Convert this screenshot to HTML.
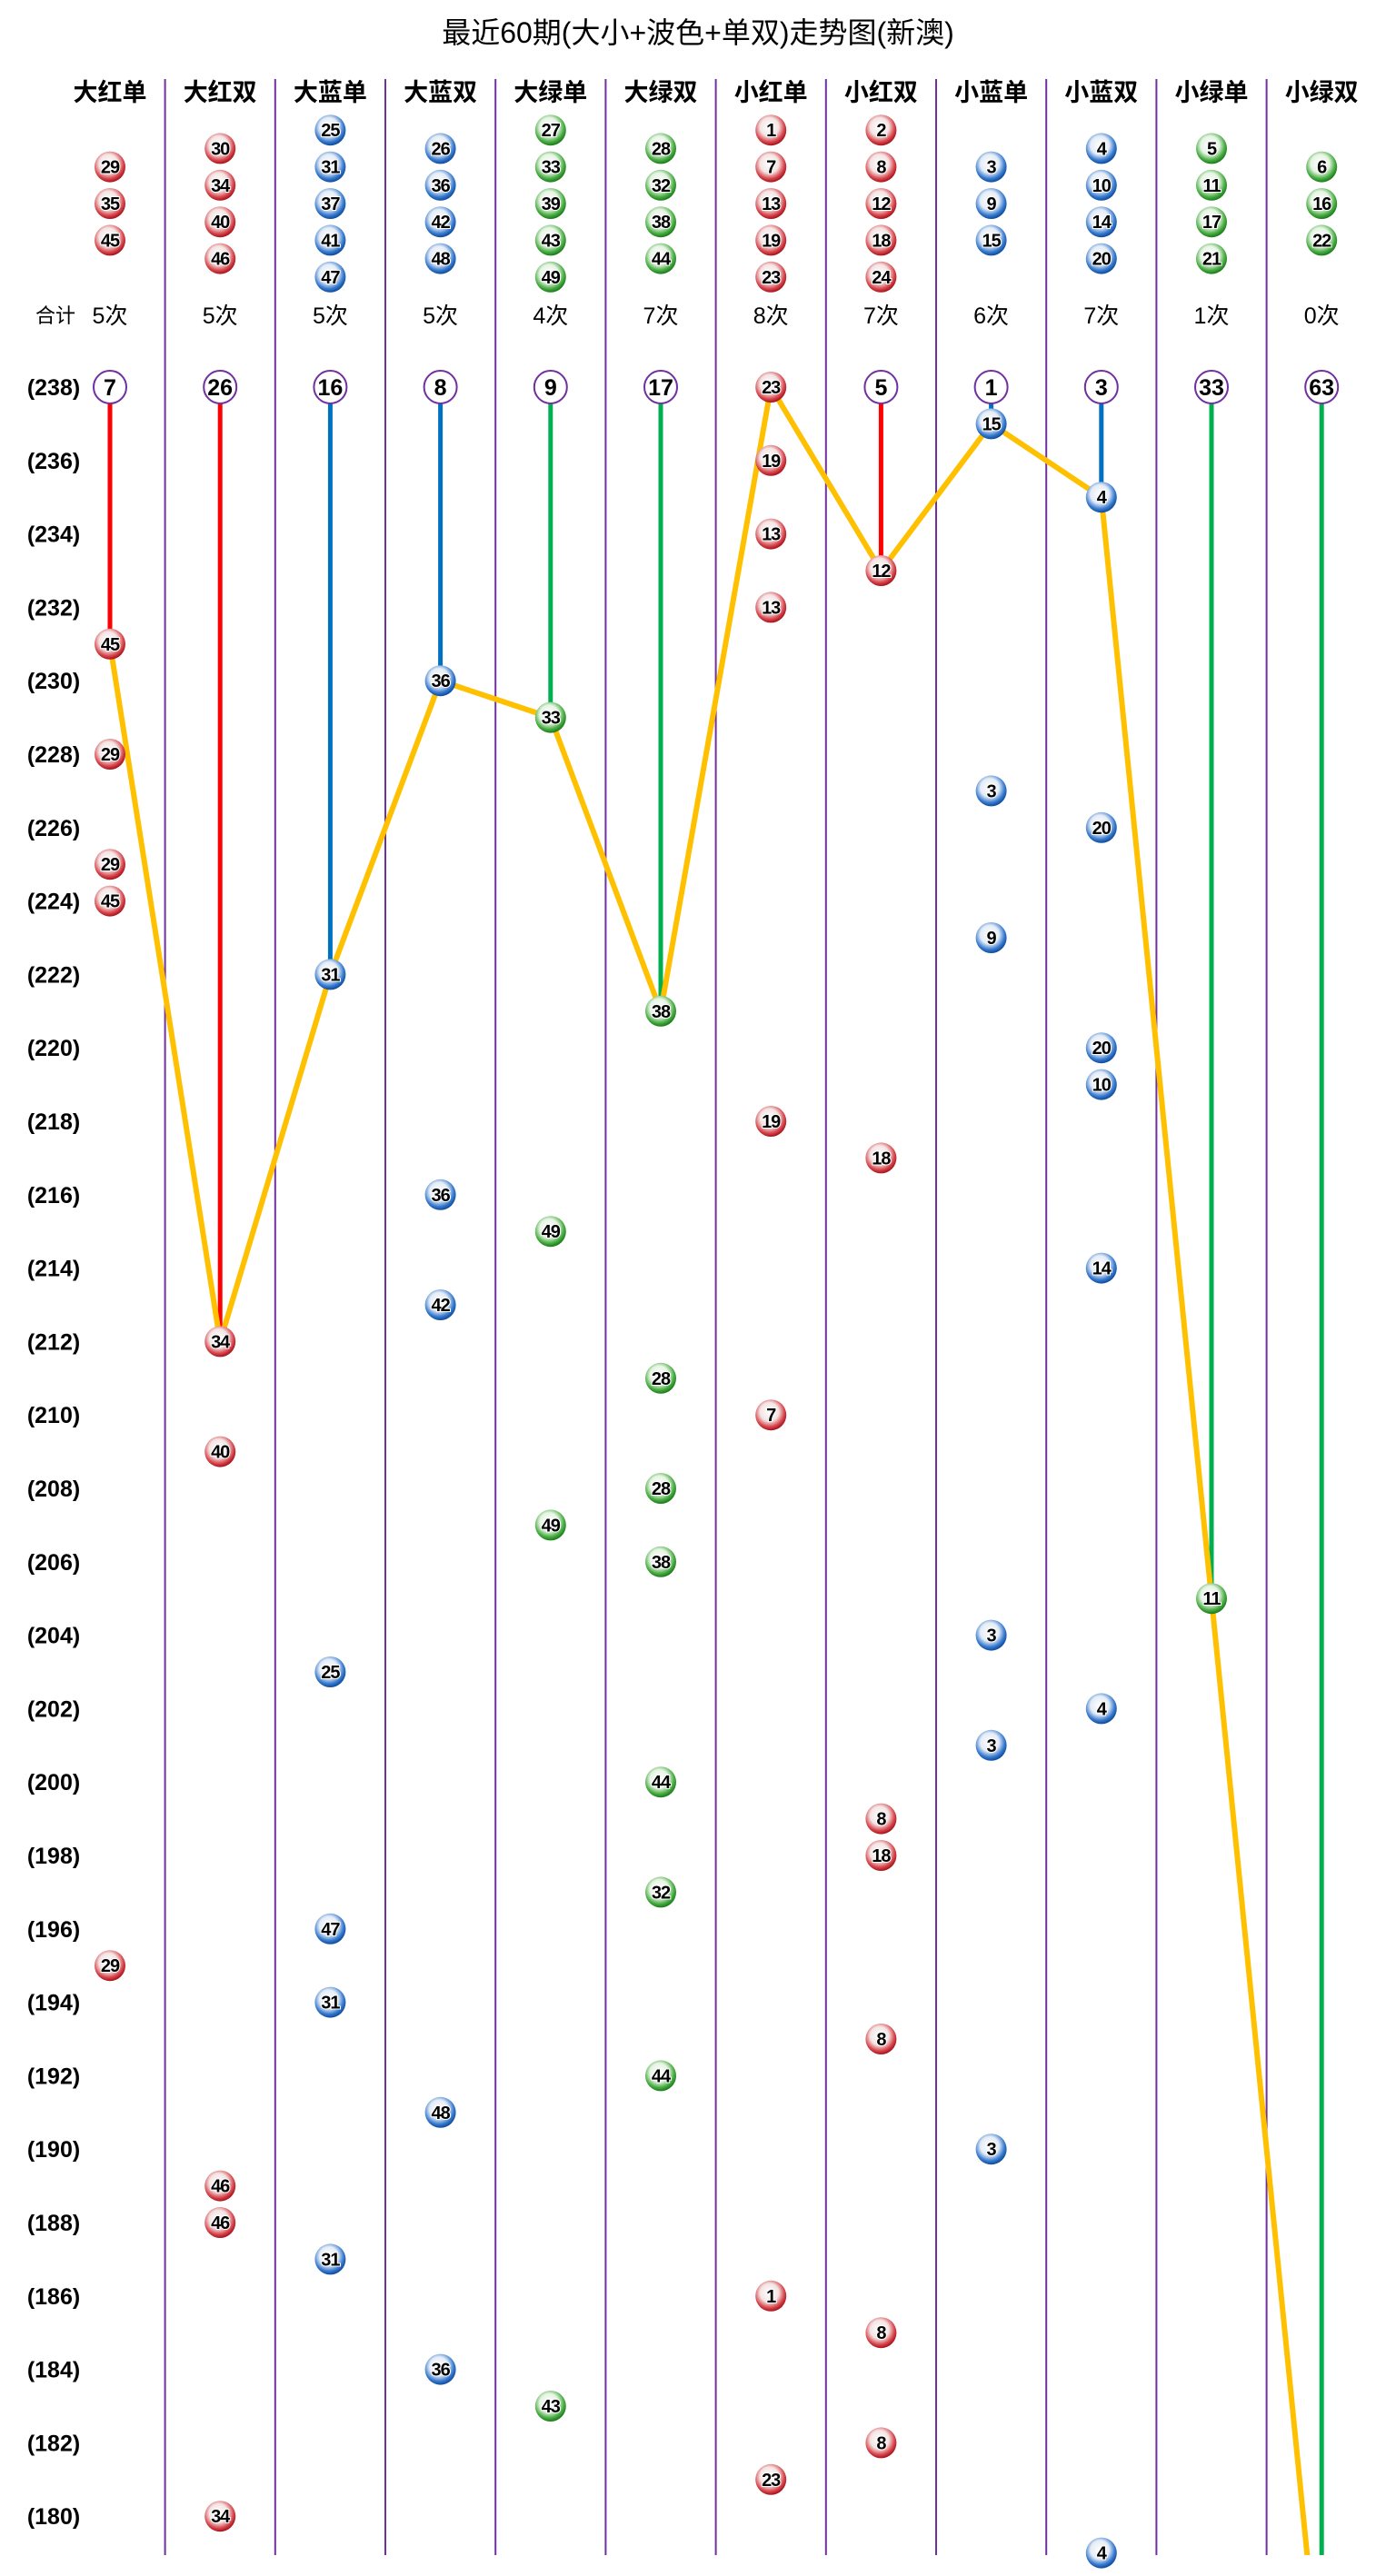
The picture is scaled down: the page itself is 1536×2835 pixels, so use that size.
<!DOCTYPE html>
<html><head><meta charset="utf-8">
<style>
html,body{margin:0;padding:0;background:#fff;}
svg{display:block;}
text{font-family:"Liberation Sans","Noto Sans CJK SC",sans-serif;}
</style></head>
<body>
<svg id="chart" xmlns="http://www.w3.org/2000/svg" width="1536" height="2835" viewBox="0 0 1536 2835">
<defs>
<radialGradient id="g-red" cx="45%" cy="40%" r="60%"><stop offset="0" stop-color="#fff"/><stop offset="0.5" stop-color="#f4e4e4"/><stop offset="0.8" stop-color="#d84a50"/><stop offset="1" stop-color="#a8101a"/></radialGradient>
<radialGradient id="g-blue" cx="45%" cy="40%" r="60%"><stop offset="0" stop-color="#fff"/><stop offset="0.5" stop-color="#e4ecf6"/><stop offset="0.8" stop-color="#3a7cd0"/><stop offset="1" stop-color="#0c4a9c"/></radialGradient>
<radialGradient id="g-green" cx="45%" cy="40%" r="60%"><stop offset="0" stop-color="#fff"/><stop offset="0.5" stop-color="#e6f4e4"/><stop offset="0.8" stop-color="#4aae44"/><stop offset="1" stop-color="#1a7a1a"/></radialGradient>
<clipPath id="plotclip"><rect x="0" y="380" width="1536" height="2432"/></clipPath>
</defs>
<text x="768" y="47" font-size="32" text-anchor="middle">最近60期(大小+波色+单双)走势图(新澳)</text>
<g id="layer-grid"></g>
<g id="layer-header"></g>
<g id="layer-lines" clip-path="url(#plotclip)"></g>
<g id="layer-balls"></g>
</svg>
<script>
const categories = ["大红单","大红双","大蓝单","大蓝双","大绿单","大绿双","小红单","小红双","小蓝单","小蓝双","小绿单","小绿双"];
const colorKeys = ["red","red","blue","blue","green","green","red","red","blue","blue","green","green"];
const memberNumbers = [[29,35,45],[30,34,40,46],[25,31,37,41,47],[26,36,42,48],[27,33,39,43,49],[28,32,38,44],[1,7,13,19,23],[2,8,12,18,24],[3,9,15],[4,10,14,20],[5,11,17,21],[6,16,22]];
const totals = [5,5,5,5,4,7,8,7,6,7,1,0];
const missing = [7,26,16,8,9,17,0,5,1,3,33,63];
const hitPeriods = [
 [231,228,225,224,195],
 [212,209,189,188,180],
 [222,203,196,194,187],
 [230,216,213,191,184],
 [229,215,207,183],
 [221,211,208,206,200,197,192],
 [238,236,234,232,218,210,186,181],
 [233,217,199,198,193,185,182],
 [237,227,223,204,201,190],
 [235,226,220,219,214,202,179],
 [205],
 []
];
const hitNumbers = [
 [45,29,29,45,29],
 [34,40,46,46,34],
 [31,25,47,31,31],
 [36,36,42,48,36],
 [33,49,49,43],
 [38,28,28,38,44,32,44],
 [23,19,13,13,19,7,1,23],
 [12,18,8,18,8,8,8],
 [15,3,9,3,3,3],
 [4,20,20,10,14,4,4],
 [11],
 []
];
const topPeriod = 238;
const rowLabels = [238,236,234,232,230,228,226,224,222,220,218,216,214,212,210,208,206,204,202,200,198,196,194,192,190,188,186,184,182,180];

const NS = "http://www.w3.org/2000/svg";
const colX = i => 121 + i * 121.2;
const yP = p => 426 + (topPeriod - p) * 40.4;
const lineColor = {red:"#ff0000", blue:"#0070c0", green:"#00b050"};
function mk(tag, attrs, parent){const e=document.createElementNS(NS,tag);for(const k in attrs)e.setAttribute(k,attrs[k]);parent.appendChild(e);return e;}
const gGrid=document.getElementById('layer-grid'),gHead=document.getElementById('layer-header'),gLines=document.getElementById('layer-lines'),gBalls=document.getElementById('layer-balls');

function ball(cx,cy,num,color,parent,name){
  const g=mk('g',{},parent);
  
  
  mk('circle',{cx:cx,cy:cy,r:17,fill:'url(#g-'+color+')'},g);
  const t=mk('text',{x:cx,y:cy+7,'font-size':20,'font-weight':'bold','text-anchor':'middle',fill:'#000',stroke:'#fff','stroke-width':2,'paint-order':'stroke','letter-spacing':'-1'},g);
  t.textContent=num;
}

// dividers
for(let i=0;i<11;i++){
  const x=colX(i)+60.6;
  const l=mk('line',{x1:x,y1:87,x2:x,y2:2812,stroke:'#7030a0','stroke-width':2},gGrid);
  
  
}
// row labels
rowLabels.forEach(p=>{
  const t=mk('text',{x:59,y:yP(p)+9,'font-size':25,'font-weight':'bold','text-anchor':'middle'},gGrid);
  
  
  t.textContent='('+p+')';
});
// 合计
const hj=mk('text',{x:61,y:355,'font-size':22,'text-anchor':'middle'},gHead);


hj.textContent='合计';

categories.forEach((c,i)=>{
  const x=colX(i), col=colorKeys[i];
  const h=mk('text',{x:x,y:111,'font-size':27,'font-weight':'bold','text-anchor':'middle'},gHead);
  
  
  h.textContent=c;
  const nums=memberNumbers[i], n=nums.length;
  nums.forEach((v,k)=>{
    const cy=224+(k-(n-1)/2)*40.4;
    ball(x,cy,v,col,gHead,'member-ball');
  });
  const tt=mk('text',{x:x,y:356,'font-size':25,'text-anchor':'middle'},gHead);
  
  
  tt.textContent=totals[i]+'次';
  // missing vertical line
  const fp=topPeriod-missing[i];
  if(missing[i]>0){
    const vl=mk('line',{x1:x,y1:yP(topPeriod),x2:x,y2:yP(fp),stroke:lineColor[col],'stroke-width':5},gLines);
    
    
  }
});
// orange trend polyline through first hit of each column
const pts=categories.map((c,i)=>colX(i)+','+yP(topPeriod-missing[i])).join(' ');
const pl=mk('polyline',{points:pts,fill:'none',stroke:'#ffc000','stroke-width':6,'stroke-linejoin':'round'},gLines);



categories.forEach((c,i)=>{
  const x=colX(i), col=colorKeys[i];
  if(missing[i]>0){
    const g=mk('g',{},gBalls);
    
    
    mk('circle',{cx:x,cy:yP(topPeriod),r:18,fill:'#fff',stroke:'#7030a0','stroke-width':2},g);
    const t=mk('text',{x:x,y:yP(topPeriod)+9,'font-size':25,'font-weight':'bold','text-anchor':'middle'},g);
    t.textContent=missing[i];
  }
  hitPeriods[i].forEach((p,k)=>{
    ball(x,yP(p),hitNumbers[i][k],col,gBalls,'hit-ball');
  });
});
</script>
</body></html>
